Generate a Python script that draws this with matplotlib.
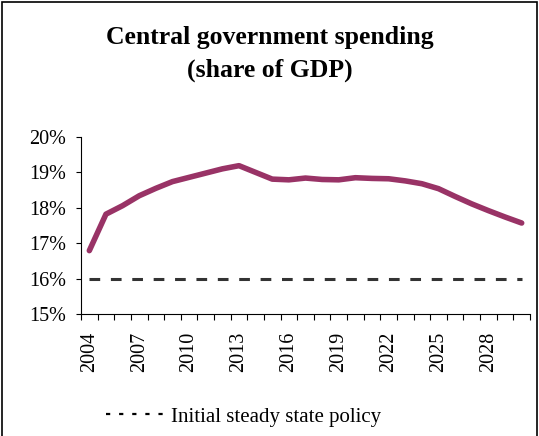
import numpy as np
import matplotlib.pyplot as plt
from matplotlib.lines import Line2D
from matplotlib.patches import Rectangle

years = list(range(2004, 2031))
spending = [16.79, 17.82, 18.06, 18.34, 18.55, 18.74, 18.86, 18.98, 19.10, 19.19,
            19.00, 18.81, 18.79, 18.84, 18.80, 18.79, 18.85, 18.83, 18.82, 18.76,
            18.68, 18.54, 18.32, 18.11, 17.92, 17.74, 17.57]
steady_state = [16.0] * len(years)
ytick_vals = [15, 16, 17, 18, 19, 20]
label_years = [2004, 2007, 2010, 2013, 2016, 2019, 2022, 2025, 2028]

plt.rcParams['font.family'] = ['Liberation Serif', 'DejaVu Serif']

fig = plt.figure(figsize=(5.39, 4.36), dpi=100)
ax = fig.add_axes([0.1503, 0.2798, 0.833, 0.4060])

x = np.arange(len(years)) + 0.5
ax.plot(x, steady_state, color='#333333', lw=2.2, linestyle=(0, (3.5, 3.5)))
ax.plot(x, spending, color='#993366', lw=4, solid_capstyle='round', solid_joinstyle='round')

ax.set_xlim(0, len(years))
ax.set_ylim(15, 20)
ax.set_yticks(ytick_vals)
ax.set_yticklabels([f'{v}%' for v in ytick_vals], fontsize=14.5)

# tick marks on category boundaries, labels on category centres
ax.set_xticks(np.arange(len(years) + 1))
ax.set_xticklabels([])
ax.set_xticks([years.index(y) + 0.5 for y in label_years], minor=True)
ax.set_xticklabels([str(y) for y in label_years], minor=True, rotation=90, fontsize=14.5)
ax.tick_params(axis='x', which='major', direction='out', length=4.3, width=0.8)
ax.tick_params(axis='x', which='minor', length=0, pad=13)
ax.tick_params(axis='y', direction='out', length=3.6, width=0.8, pad=7)

for s in ['top', 'right']:
    ax.spines[s].set_visible(False)
for s in ['left', 'bottom']:
    ax.spines[s].set_linewidth(0.8)

fig.text(0.5, 0.915, 'Central government spending', ha='center', va='center',
         fontsize=18.5, fontweight='bold')
fig.text(0.5, 0.838, '(share of GDP)', ha='center', va='center',
         fontsize=18.5, fontweight='bold')

handle = Line2D([0], [0], color='black', lw=1.6, linestyle=(0, (1.9, 4.0)))
fig.legend([handle], ['Initial steady state policy'], loc='center',
           bbox_to_anchor=(0.452, 0.044), frameon=False, fontsize=15,
           handlelength=3.1, handletextpad=0.0)

fig.patches.append(Rectangle((0.004, -0.01), 0.992, 1.005, transform=fig.transFigure,
                             fill=False, edgecolor='black', lw=1.2))

fig.savefig('out.png', dpi=100)
